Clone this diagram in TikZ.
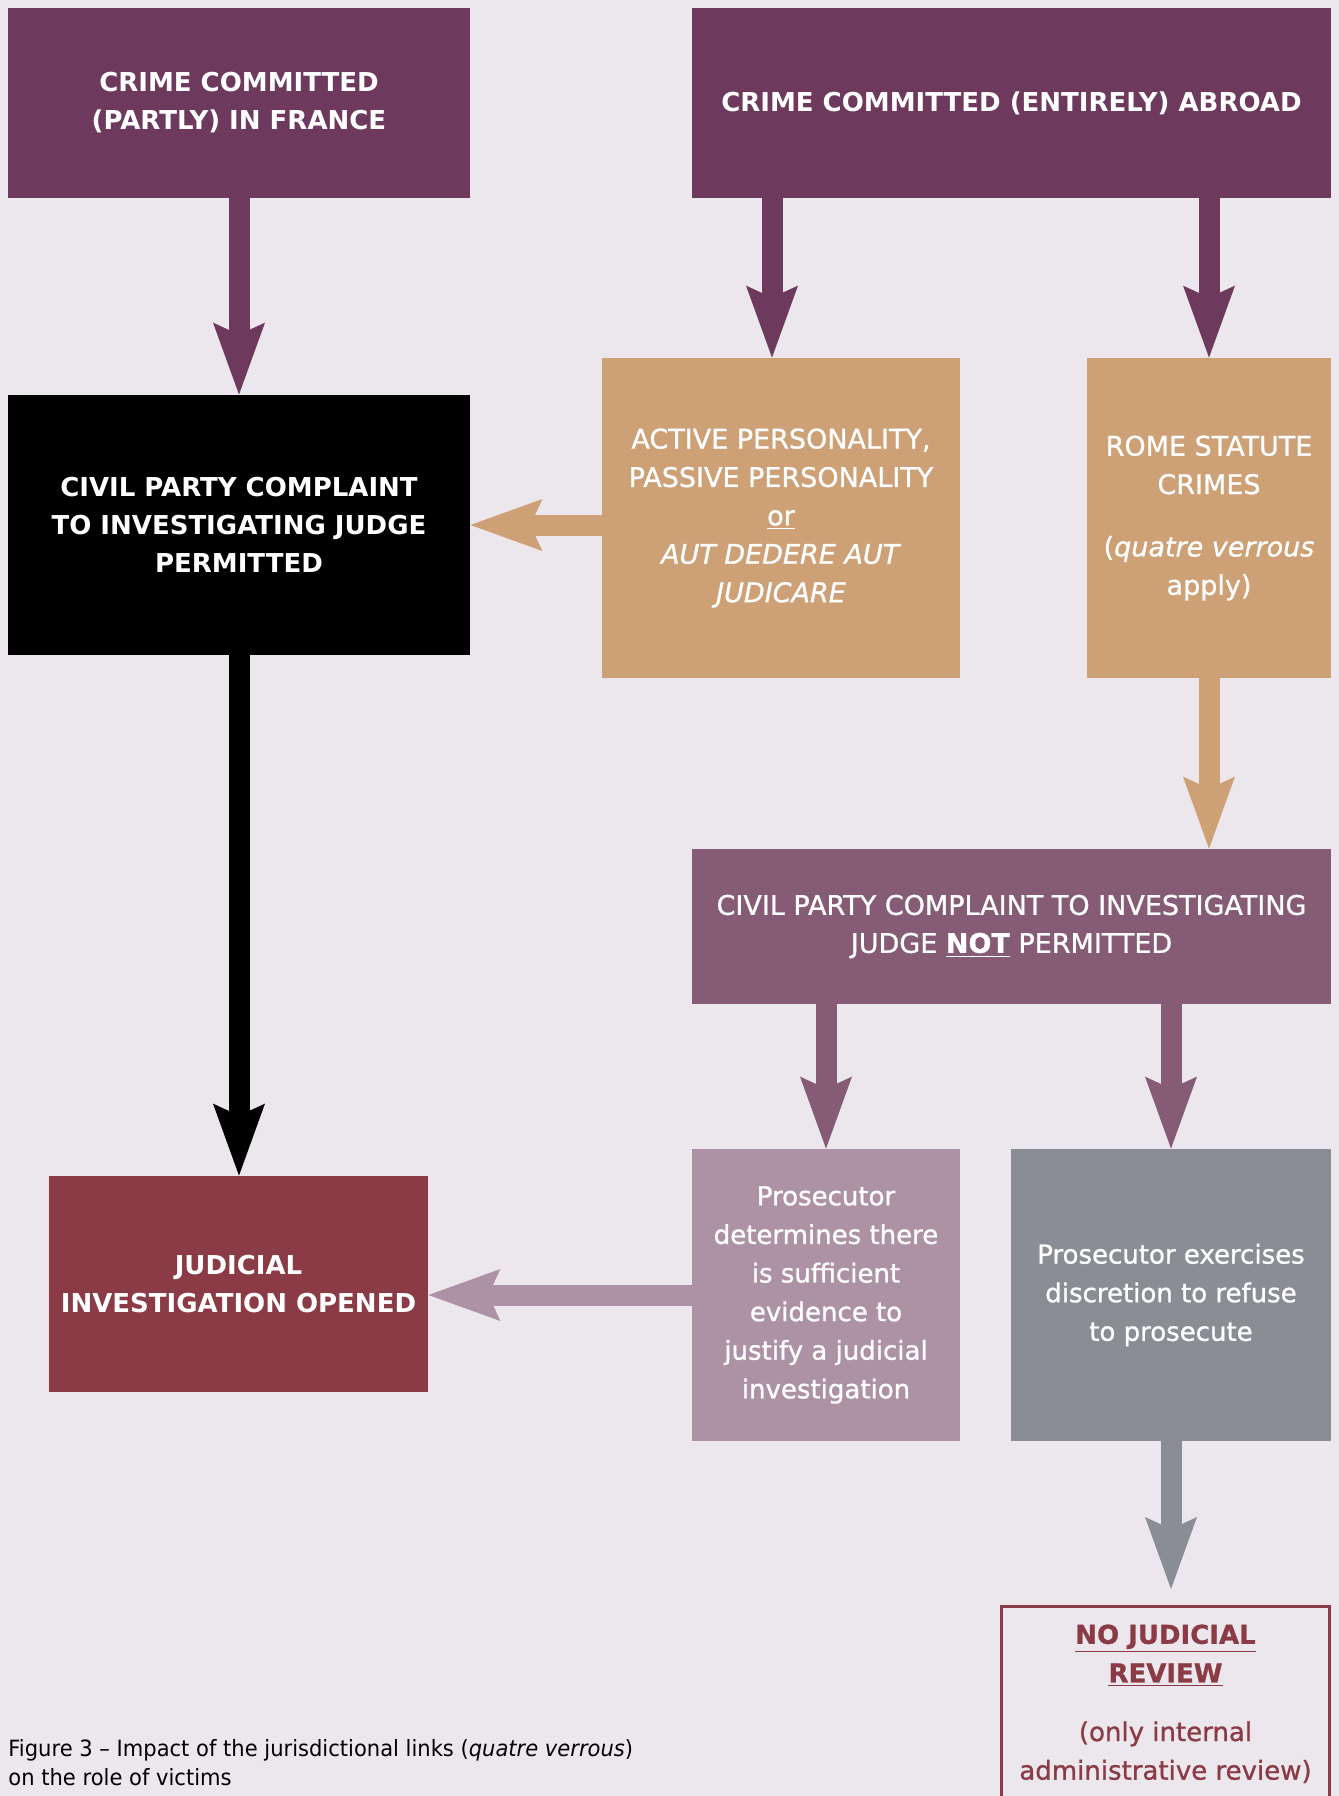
\documentclass[tikz,border=0pt]{standalone}
\usepackage{fontspec}
\setmainfont{DejaVu Sans}
\newfontfamily\medfont[FakeBold=1]{DejaVu Sans}
\newfontfamily\condfont[FakeStretch=0.94]{DejaVu Sans}
\usetikzlibrary{arrows.meta}
\usetikzlibrary{positioning}
\definecolor{bgpale}{HTML}{ECE7ED}
\definecolor{plum}{HTML}{6D3A5E}
\definecolor{sand}{HTML}{CDA076}
\definecolor{mauve}{HTML}{865B75}
\definecolor{lilac}{HTML}{AD91A4}
\definecolor{wine}{HTML}{8A3B45}
\definecolor{slate}{HTML}{8B8D95}
\tikzset{
	box/.style={rectangle, inner sep=0pt, align=center, text=white},
	headfont/.style={font=\bfseries\fontsize{13}{19}\selectfont},
	bodyfont/.style={font=\medfont\fontsize{13}{19.3}\selectfont},
	flow/.style={line width=10.5pt, -{Stealth[length=36pt,width=26pt,inset=6pt,line width=0pt]}},
}

\begin{document}
\begin{tikzpicture}[x=0.5pt,y=-0.5pt]
	\path[use as bounding box, fill=bgpale] (0,0) rectangle (1339,1796);
	% top row
	\node[box, headfont, fill=plum, minimum width=231pt, minimum height=95pt] (france) at (239,103) {CRIME COMMITTED\\(PARTLY) IN FRANCE};
	\node[box, headfont, fill=plum, minimum width=319.5pt, minimum height=95pt] (abroad) at (1011.5,103) {CRIME COMMITTED (ENTIRELY) ABROAD};
	% middle row
	\node[box, headfont, fill=black, minimum width=231pt, minimum height=130pt] (permitted) at (239,525) {CIVIL PARTY COMPLAINT\\TO INVESTIGATING JUDGE\\PERMITTED};
	\node[box, font=\medfont\fontsize{13.5}{19.2}\selectfont, fill=sand, minimum width=179pt, minimum height=160pt] (personality) at (781,518) {ACTIVE PERSONALITY,\\PASSIVE PERSONALITY\\\underline{or}\\\textit{AUT DEDERE AUT}\\\textit{JUDICARE}};
	\node[box, font=\medfont\fontsize{13.5}{19.2}\selectfont, fill=sand, minimum width=122pt, minimum height=160pt] (rome) at (1209,518) {ROME STATUTE\\CRIMES\\[12pt](\textit{quatre verrous}\\apply)};
	\node[box, font=\medfont\fontsize{13.5}{19}\selectfont, fill=mauve, minimum width=319.5pt, minimum height=77.5pt] (notpermitted) at (1011.5,926.5) {CIVIL PARTY COMPLAINT TO INVESTIGATING\\JUDGE \underline{\textbf{NOT}} PERMITTED};
	% bottom row
	\node[box, headfont, fill=wine, minimum width=189.5pt, minimum height=108pt] (opened) at (238.5,1284) {JUDICIAL\\INVESTIGATION OPENED};
	\node[box, bodyfont, fill=lilac, minimum width=134pt, minimum height=146pt] (evidence) at (826,1295) {Prosecutor\\determines there\\is sufficient\\evidence to\\justify a judicial\\investigation};
	\node[box, bodyfont, fill=slate, minimum width=160pt, minimum height=146pt] (refuse) at (1171,1295) {Prosecutor exercises\\discretion to refuse\\to prosecute};
	\node[box, bodyfont, text=wine, draw=wine, line width=1.5pt, inner ysep=9pt, minimum width=164pt, anchor=north] (noreview) at (1165.5,1605) {\underline{\textbf{NO JUDICIAL}}\\\underline{\textbf{REVIEW}}\\[10pt](only internal\\administrative review)};
	% caption
	\node[anchor=north west, inner sep=0pt, align=left, font=\condfont\fontsize{11.2}{14.3}\selectfont] (caption) at (8,1739) {Figure 3 – Impact of the jurisdictional links (\textit{quatre verrous})\\on the role of victims};
	% arrows
	\draw[flow, plum] (france.south) -- (permitted.north);
	\draw[flow, plum] ([xshift=-4.5pt]personality.north |- abroad.south) -- ([xshift=-4.5pt]personality.north);
	\draw[flow, plum] (rome.north |- abroad.south) -- (rome.north);
	\draw[flow, sand] (personality.west |- permitted.east) -- (permitted.east);
	\draw[flow, sand] (rome.south) -- (rome.south |- notpermitted.north);
	\draw[flow, mauve] (evidence.north |- notpermitted.south) -- (evidence.north);
	\draw[flow, mauve] (refuse.north |- notpermitted.south) -- (refuse.north);
	\draw[flow, black] (permitted.south) -- (permitted.south |- opened.north);
	\draw[flow, lilac] (evidence.west) -- (evidence.west -| opened.east);
	\draw[flow, slate, shorten >=8pt] (refuse.south) -- (refuse.south |- noreview.north);
\end{tikzpicture}
\end{document}
